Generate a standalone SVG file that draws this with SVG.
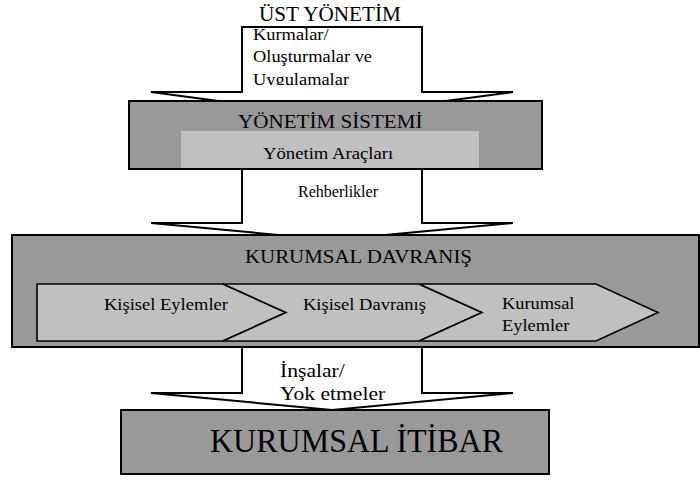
<svg xmlns="http://www.w3.org/2000/svg" width="700" height="480" viewBox="0 0 700 480">
  <style>
    text { font-family: "Liberation Serif", "Times New Roman", serif; fill: #000; }
    .box { fill: #999999; stroke: #000; stroke-width: 2; }
    .inner { fill: #c0c0c0; }
    .chev { fill: #c0c0c0; stroke: #000; stroke-width: 1.6; stroke-linejoin: miter; }
    .arrow { fill: #fff; stroke: #000; stroke-width: 2; stroke-linejoin: miter; }
  </style>
  <defs>
    <clipPath id="topLabelClip">
      <rect x="243" y="28" width="178" height="57"/>
    </clipPath>
  </defs>

  <rect width="700" height="480" fill="#fff"/>

  <!-- block arrows between the levels (drawn first so the boxes sit on top of the tips) -->
  <g id="connectors">
    <g id="arrow-top">
      <polygon class="arrow" points="242,27 422,27 422,92 513,92 332,116 151,92 242,92"/>
      <g clip-path="url(#topLabelClip)">
        <g font-size="16" transform="translate(253,0) scale(1.15,1)">
          <text x="0" y="40">Kurmalar/</text>
          <text x="0" y="62">Oluşturmalar ve</text>
          <text x="0" y="85">Uygulamalar</text>
        </g>
      </g>
    </g>
    <g id="arrow-middle">
      <polygon class="arrow" points="242,165 422,165 422,223 513,223 332,240 151,223 242,223"/>
      <text x="298" y="197" font-size="16">Rehberlikler</text>
    </g>
    <g id="arrow-bottom">
      <polygon class="arrow" points="242,344 422,344 422,393 513,393 332,410 151,393 242,393"/>
      <g font-size="18" transform="translate(280,0) scale(1.2,1)">
        <text x="0" y="377">İnşalar/</text>
        <text x="0" y="400">Yok etmeler</text>
      </g>
    </g>
  </g>

  <g id="ust-yonetim">
    <text font-size="20" transform="translate(259,21) scale(1.06,1)">ÜST YÖNETİM</text>
  </g>

  <g id="yonetim-sistemi">
    <rect class="box" x="129" y="101" width="413" height="68"/>
    <text font-size="19" transform="translate(238,128) scale(1.11,1)">YÖNETİM SİSTEMİ</text>
    <g id="yonetim-araclari">
      <rect class="inner" x="181" y="131" width="298" height="37"/>
      <text font-size="17" transform="translate(263,159) scale(1.1,1)">Yönetim Araçları</text>
    </g>
  </g>

  <g id="kurumsal-davranis">
    <rect class="box" x="12" y="235" width="687" height="112"/>
    <text font-size="19" transform="translate(245,263) scale(1.1,1)">KURUMSAL DAVRANIŞ</text>
    <g id="kisisel-eylemler">
      <polygon class="chev" points="37,284 223,284 286,312.5 223,341 37,341"/>
      <text font-size="17" transform="translate(104,310) scale(1.09,1)">Kişisel Eylemler</text>
    </g>
    <g id="kisisel-davranis">
      <polygon class="chev" points="223,284 419,284 482,312.5 419,341 223,341 286,312.5"/>
      <text font-size="17" transform="translate(303,310) scale(1.09,1)">Kişisel Davranış</text>
    </g>
    <g id="kurumsal-eylemler">
      <polygon class="chev" points="419,284 596,284 658,312.5 596,341 419,341 482,312.5"/>
      <g font-size="17" transform="translate(502,0) scale(1.08,1)">
        <text x="0" y="309">Kurumsal</text>
        <text x="0" y="331">Eylemler</text>
      </g>
    </g>
  </g>

  <g id="kurumsal-itibar">
    <rect class="box" x="121" y="410" width="428" height="64"/>
    <text font-size="33" transform="translate(210,452) scale(0.97,1)">KURUMSAL İTİBAR</text>
  </g>
</svg>
